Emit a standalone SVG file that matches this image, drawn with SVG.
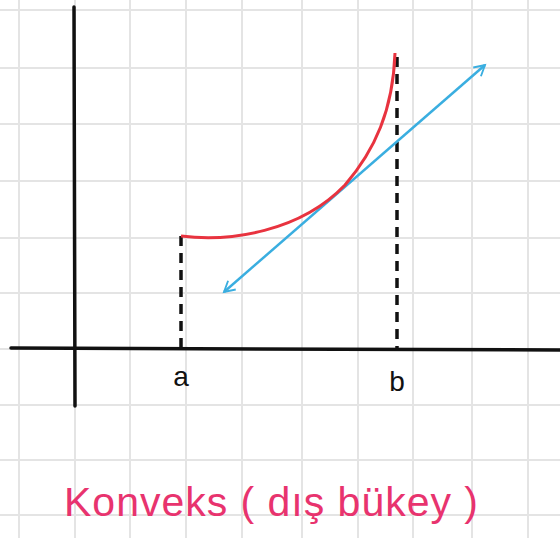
<svg xmlns="http://www.w3.org/2000/svg" width="560" height="538" viewBox="0 0 560 538">
<style>
.grid{stroke:#e4e4e4;stroke-width:2}
.axis{stroke:#111;stroke-width:3.5;stroke-linecap:round}
.dash{stroke:#111;stroke-width:3.5;stroke-dasharray:10 7}
.lbl{font-family:"Liberation Sans",Arial,sans-serif;font-size:28px;fill:#111;text-anchor:middle}
.title{font-family:"Liberation Sans",Arial,sans-serif;font-size:41px;fill:#e8336e}
</style>
<defs>
<marker id="ah" viewBox="0 0 12 12" refX="10" refY="6" markerWidth="14" markerHeight="14" markerUnits="userSpaceOnUse" orient="auto-start-reverse">
<path d="M1,1 L10,6 L1,11" fill="none" stroke="#3aaee0" stroke-width="1.6"/>
</marker>
</defs>
<rect width="560" height="538" fill="#fff"/>
<g id="grid">
<path class="grid" d="M19,0V538M75,0V538M130,0V538M186,0V538M242,0V538M302,0V538M358,0V538M413,0V538M472,0V538M528,0V538"/>
<path class="grid" d="M0,10H560M0,68H560M0,124H560M0,181H560M0,238H560M0,293H560M0,349H560M0,405H560M0,460H560M0,515H560"/>
</g>
<g id="axes">
<line class="axis" x1="74" y1="7" x2="75" y2="406"/>
<line class="axis" x1="11" y1="348" x2="560" y2="350"/>
</g>
<g id="connectors">
<line class="dash" x1="181" y1="236" x2="181" y2="349"/>
<line class="dash" x1="397" y1="57" x2="397" y2="349"/>
<line x1="224" y1="292" x2="485" y2="65" stroke="#3aaee0" stroke-width="2.5" marker-start="url(#ah)" marker-end="url(#ah)"/>
</g>
<g id="curve">
<path d="M181,236 C230,242 300,232 345,185 C375,150 393,110 395,53" fill="none" stroke="#e8333f" stroke-width="3"/>
</g>
<g id="label-a"><text class="lbl" x="181" y="386">a</text></g>
<g id="label-b"><text class="lbl" x="397" y="391">b</text></g>
<g id="title"><text class="title" x="64" y="516" textLength="414" lengthAdjust="spacing">Konveks ( dış bükey )</text></g>
</svg>
